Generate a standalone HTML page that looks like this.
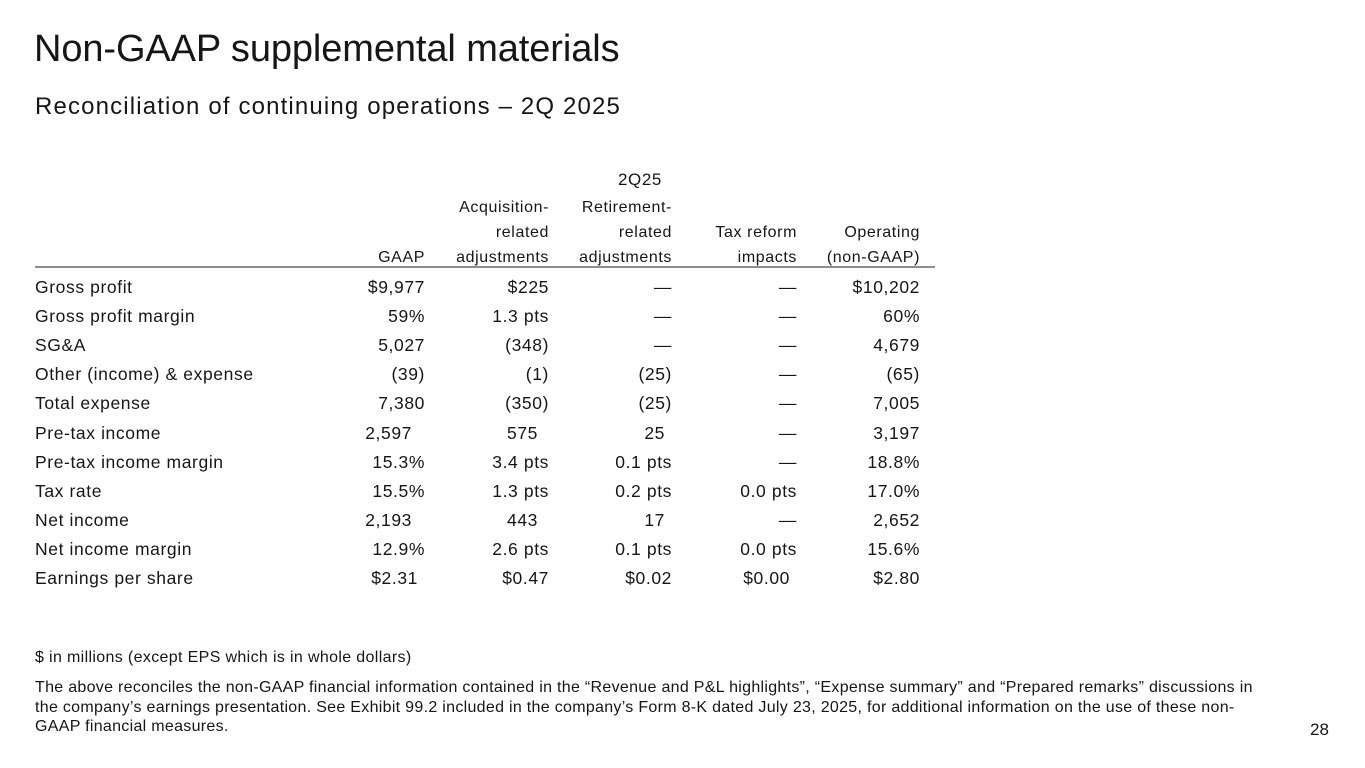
<!DOCTYPE html>
<html><head><meta charset="utf-8"><style>
body{margin:0;width:1365px;height:768px;background:#fff;position:relative;overflow:hidden;font-family:"Liberation Sans",sans-serif;color:#161616}
.a{position:absolute;white-space:nowrap}
.t{font-size:17.5px;line-height:20px;letter-spacing:0.6px}
.r{text-align:right}
</style></head><body>
<div class="a" style="left:34px;top:28px;font-size:38px;letter-spacing:-0.1px">Non-GAAP supplemental materials</div>
<div class="a" style="left:35px;top:93px;font-size:24px;letter-spacing:1.15px">Reconciliation of continuing operations – 2Q 2025</div>
<div class="a t" style="left:600px;top:170px;width:80px;text-align:center;font-size:17px">2Q25</div>
<div id="hdr"></div>
<div class="a" style="left:35px;top:266px;width:900px;height:2px;background:#8d8d8d"></div>
<div id="tbl"></div>
<div class="a" style="left:35px;top:649px;font-size:16px;letter-spacing:0.35px">$ in millions (except EPS which is in whole dollars)</div>
<div class="a" style="left:35px;top:678px;font-size:16px;letter-spacing:0.3px;line-height:19.5px">The above reconciles the non-GAAP financial information contained in the “Revenue and P&amp;L highlights”, “Expense summary” and “Prepared remarks” discussions in<br>the company’s earnings presentation. See Exhibit 99.2 included in the company’s Form 8-K dated July 23, 2025, for additional information on the use of these non-<br>GAAP financial measures.</div>
<div class="a" style="left:1310px;top:720px;font-size:17px">28</div>
<script>
const rights=[425,549,672,797,920];
const headers=[["GAAP"],["Acquisition-","related","adjustments"],["Retirement-","related","adjustments"],["Tax reform","impacts"],["Operating","(non-GAAP)"]];
const labels=["Gross profit","Gross profit margin","SG&A","Other (income) & expense","Total expense","Pre-tax income","Pre-tax income margin","Tax rate","Net income","Net income margin","Earnings per share"];
const cells=[
["$9,977","$225","—","—","$10,202"],
["59%","1.3 pts","—","—","60%"],
["5,027","(348)","—","—","4,679"],
["(39)","(1)","(25)","—","(65)"],
["7,380","(350)","(25)","—","7,005"],
["2,597","575","25","—","3,197"],
["15.3%","3.4 pts","0.1 pts","—","18.8%"],
["15.5%","1.3 pts","0.2 pts","0.0 pts","17.0%"],
["2,193","443","17","—","2,652"],
["12.9%","2.6 pts","0.1 pts","0.0 pts","15.6%"],
["$2.31","$0.47","$0.02","$0.00","$2.80"]];
const shift={"5-0":13,"5-1":11,"5-2":7,"8-0":13,"8-1":11,"8-2":7,"10-0":7,"10-3":7};
const H=document.getElementById('hdr');
headers.forEach((h,c)=>{h.forEach((line,i)=>{
 const d=document.createElement('div');
 
 
 d.className='a t r';d.style.fontSize='16px';
 d.style.left=(rights[c]-200)+'px';d.style.width='200px';
 d.style.top=(248-(h.length-1-i)*25)+'px';d.textContent=line;H.appendChild(d);});});
const T=document.getElementById('tbl');
labels.forEach((lab,r)=>{
 const y=277+r*29.1;
 const l=document.createElement('div');
 
 
 l.className='a t';l.style.left='35px';l.style.top=y+'px';l.textContent=lab;T.appendChild(l);
 cells[r].forEach((v,c)=>{
  const d=document.createElement('div');
  
  
  d.className='a t r';const s=shift[r+'-'+c]||0;
  d.style.left=(rights[c]-150-s)+'px';d.style.width='150px';d.style.top=y+'px';d.textContent=v;T.appendChild(d);});
});
</script>
</body></html>
